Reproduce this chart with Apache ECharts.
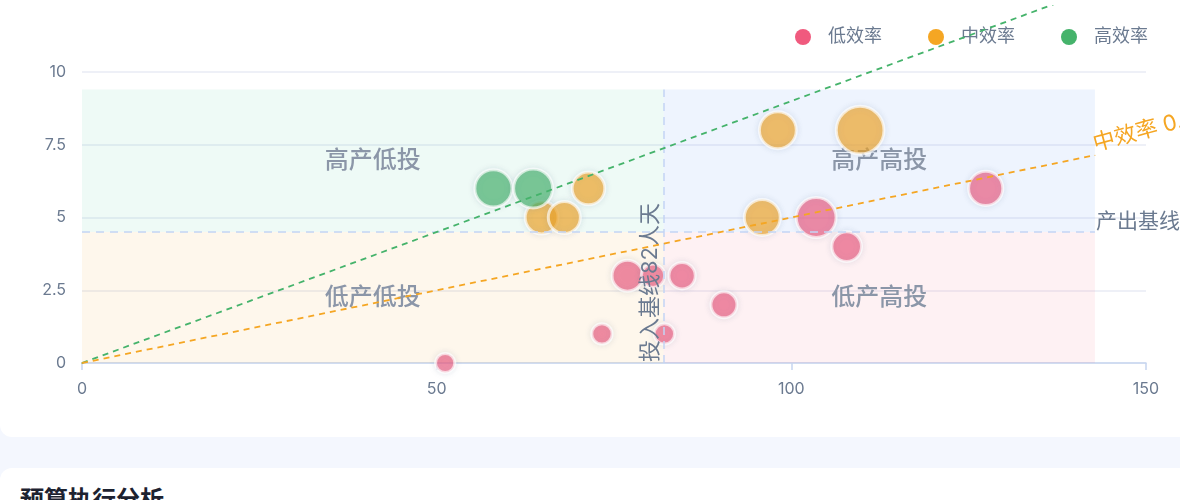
<!DOCTYPE html>
<html><head><meta charset="utf-8">
<script src="https://cdn.jsdelivr.net/npm/echarts@6/dist/echarts.min.js"></script>
<style>
html,body{margin:0;padding:0;background:#f4f7fe;width:1180px;height:500px;overflow:hidden;font-family:Inter,"Noto Sans CJK SC",sans-serif;}
.card1{position:absolute;left:0;top:-20px;width:1200px;height:457px;background:#fff;border-radius:12px;}
.card2{position:absolute;left:0;top:468px;width:1200px;height:100px;background:#fff;border-radius:12px;}
.title{position:absolute;left:20px;top:486px;font-size:24px;line-height:24px;font-weight:bold;color:#1d2230;font-family:"Noto Sans CJK SC",sans-serif;}
#chart{position:absolute;left:0;top:5px;width:1180px;height:432px;}
</style></head><body>
<div class="card1"></div><div class="card2"></div><div class="title">预算执行分析</div>
<div id="chart"></div>
<script>
// ---- data ----
const seriesNames = ['低效率', '中效率', '高效率'];
// [投入(人天), 产出, 规模]
const lowData = [[103.5,5,9.3],[107.8,4,5.9],[127.4,6,7.4],[76.9,3,6.3],[80.5,3,3.8],[84.6,3,4.8],[90.5,2,4.7],[73.3,1,2.8],[82.1,1,2.8],[51.2,0,2.4]];
const midData = [[71.4,6,6.9],[64.8,5,7.0],[68.0,5,6.7],[98.1,8,8.3],[109.7,8,11.9],[95.9,5,8.0]];
const highData = [[58.0,6,8.4],[63.6,6,9.0]];
const inputBaseline = 82;
const outputBaseline = 4.5;
const areaMaxX = 142.8;
const areaMaxY = 9.4;
const efficiencyNames = ['高效率', '中效率'];
const efficiencySlopes = [0.09, 0.05];
const quadrantNames = ['高产低投', '高产高投', '低产低投', '低产高投'];
const xMin = 0, xMax = 150, xInterval = 50;
const yMin = 0, yMax = 10, yInterval = 2.5;

// ---- styles ----
const solid = ['#f05a7e', '#f5a623', '#45b36b'];
const lineColors = ['#45b36b', '#f5a623'];
const labelGray = '#6b7a90';
const font = 'Inter, "Noto Sans CJK SC", sans-serif';

const chart = echarts.init(document.getElementById('chart'), null, {renderer: 'canvas'});

const scatterSeries = [lowData, midData, highData].map((d, i) => ({
  type: 'scatter', name: seriesNames[i], data: d, z: 3,
  symbolSize: v => 12 + v[2] * 3,
  itemStyle: {color: solid[i], opacity: 0.66, borderColor: '#fff', borderWidth: 3, shadowBlur: 6, shadowColor: 'rgba(80,100,140,0.18)'},
  emphasis: {disabled: true}
}));

const lineSeries = efficiencySlopes.map((s, i) => ({
  type: 'line', name: efficiencyNames[i] + '线', z: 6, clip: false, silent: true,
  symbol: 'circle', symbolSize: 1, showSymbol: true,
  itemStyle: {color: lineColors[i]},
  lineStyle: {color: lineColors[i], width: 1.8, type: [6, 5]},
  data: [[0, 0], {value: [areaMaxX, areaMaxX * s], label: {
    show: true, formatter: efficiencyNames[i] + ' ' + s.toFixed(2), position: 'right', distance: 1,
    rotate: 15, verticalAlign: 'bottom', color: lineColors[i], fontSize: 22, fontFamily: font}}]
}));

const areaSeries = {
  type: 'scatter', name: '_area', data: [], z: 1, silent: true,
  markArea: {
    silent: true,
    label: {show: true, position: 'inside', fontSize: 24, fontWeight: 500, color: '#8b96a8', fontFamily: font},
    data: [
      [{name: quadrantNames[0], coord: [xMin, outputBaseline], itemStyle: {color: 'rgba(16,185,129,0.07)'}}, {coord: [inputBaseline, areaMaxY]}],
      [{name: quadrantNames[1], coord: [inputBaseline, outputBaseline], itemStyle: {color: 'rgba(59,130,246,0.085)'}}, {coord: [areaMaxX, areaMaxY]}],
      [{name: quadrantNames[2], coord: [xMin, yMin], itemStyle: {color: 'rgba(245,158,11,0.08)'}}, {coord: [inputBaseline, outputBaseline]}],
      [{name: quadrantNames[3], coord: [inputBaseline, yMin], itemStyle: {color: 'rgba(244,63,94,0.075)'}}, {coord: [areaMaxX, outputBaseline]}]
    ]
  }
};

const baseSeries = {
  type: 'scatter', name: '_base', data: [], z: 5, silent: true,
  markLine: {
    silent: true, symbol: ['none', 'none'],
    lineStyle: {color: '#c3d5f5', width: 1.5, type: [8, 6]},
    label: {color: labelGray, fontSize: 21, fontFamily: font},
    data: [
      [{coord: [inputBaseline, yMin], label: {formatter: '投入基线' + inputBaseline + '人天', position: 'insideStartTop', distance: [1, 2], fontSize: 22}}, {coord: [inputBaseline, areaMaxY]}],
      [{coord: [xMin, outputBaseline], label: {formatter: '产出基线' + outputBaseline, position: 'end', distance: 1, verticalAlign: 'bottom'}}, {coord: [areaMaxX, outputBaseline]}]
    ]
  }
};

chart.setOption({
  animation: false,
  textStyle: {fontFamily: font},
  grid: {left: 82, right: 34, top: 67, bottom: 74},
  legend: {
    right: 27, top: 18, itemWidth: 40, itemHeight: 16, itemGap: 46, icon: 'circle',
    textStyle: {color: labelGray, fontSize: 18, fontFamily: font},
    itemStyle: {opacity: 1, borderWidth: 0, shadowBlur: 0},
    data: seriesNames.map((n, i) => ({name: n, itemStyle: {color: solid[i], opacity: 1, borderWidth: 0, shadowBlur: 0}}))
  },
  xAxis: {
    type: 'value', min: xMin, max: xMax, interval: xInterval,
    axisLine: {show: true, lineStyle: {color: '#c6d5f0', width: 1.5}},
    axisTick: {show: true, length: 7, lineStyle: {color: '#c6d5f0', width: 1.5}},
    axisLabel: {color: labelGray, fontSize: 16, margin: 18},
    splitLine: {show: false}
  },
  yAxis: {
    type: 'value', min: yMin, max: yMax, interval: yInterval,
    axisLine: {show: false}, axisTick: {show: false},
    axisLabel: {color: labelGray, fontSize: 16, margin: 16},
    splitLine: {lineStyle: {color: '#e8ebf5', width: 1.5}}
  },
  series: [areaSeries].concat(scatterSeries, [baseSeries], lineSeries)
});
</script></body></html>
